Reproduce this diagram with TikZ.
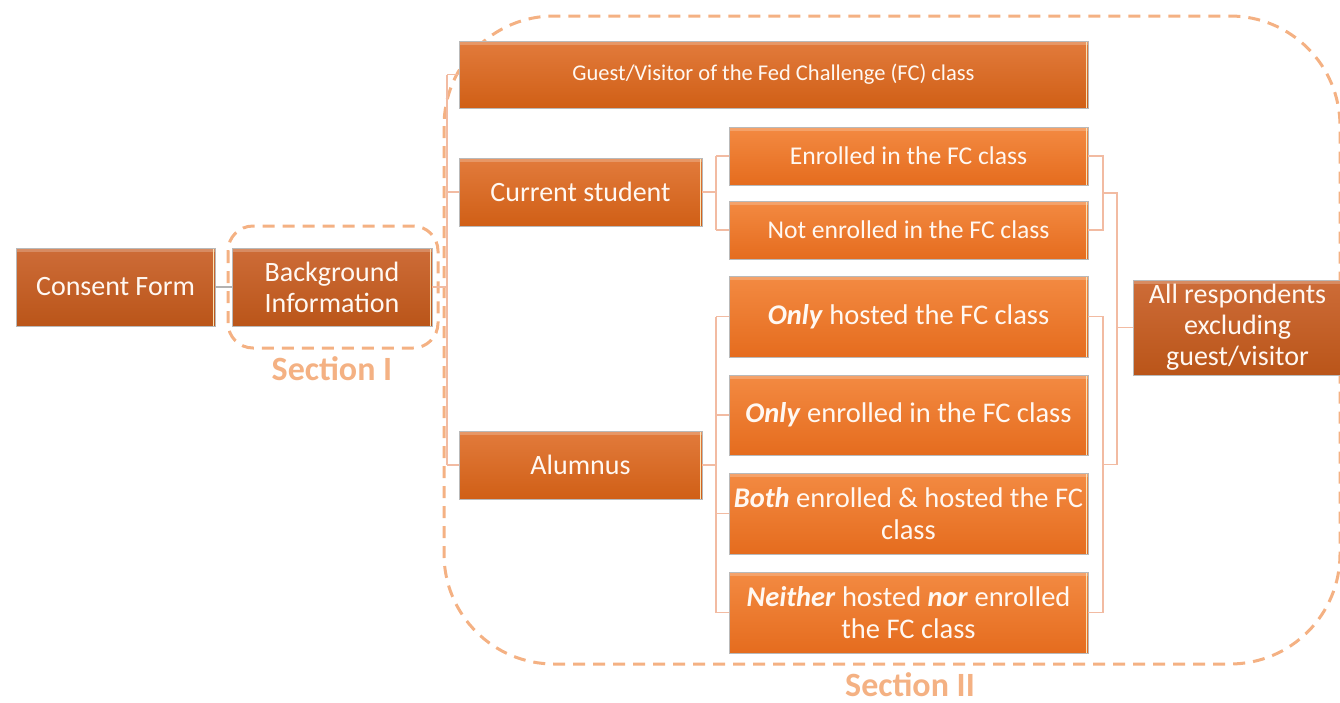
\documentclass[tikz,border=0pt]{standalone}
\usepackage{fontspec}
\setmainfont{Carlito}
\usetikzlibrary{calc}
\definecolor{secc}{HTML}{F4B183}
\definecolor{linkc}{HTML}{F2BBA2}
\definecolor{dtop}{HTML}{CD6C38}
\definecolor{dbot}{HTML}{BA5519}
\definecolor{mtop}{HTML}{E27B3C}
\definecolor{mbot}{HTML}{D05F16}
\definecolor{ltop}{HTML}{F38A42}
\definecolor{lbot}{HTML}{E56C1E}
\definecolor{txtc}{HTML}{FFF8F2}
\definecolor{edgec}{HTML}{FBE3B5}
\tikzset{
  box/.style={draw=gray!55, line width=0.8pt, text=txtc, align=center, inner sep=0pt,
    path picture={
      \fill[white, opacity=0.22] (path picture bounding box.north west) rectangle ([yshift=-4pt]path picture bounding box.north east);
      \draw[edgec, line width=1.4pt] ([xshift=-1.5pt]path picture bounding box.north east) -- ([xshift=-1.5pt]path picture bounding box.south east);
    }},
  boxdark/.style={box, top color=dtop, bottom color=dbot},
  boxmid/.style={box, top color=mtop, bottom color=mbot},
  boxlight/.style={box, top color=ltop, bottom color=lbot},
  big/.style={font=\fontsize{28}{31}\selectfont},
  large/.style={font=\fontsize{28.5}{31.5}\selectfont},
  med/.style={font=\fontsize{25.6}{31}\selectfont},
  small/.style={font=\fontsize{22.5}{27}\selectfont},
  link/.style={draw=linkc, line width=1.4pt},
  secdash/.style={draw=secc, line width=3pt, dash pattern=on 12pt off 8pt},
  seclabel/.style={text=secc, font=\bfseries\fontsize{34}{38}\selectfont, inner sep=0pt}
}
\begin{document}
\begin{tikzpicture}[x=1pt,y=-1pt]
\useasboundingbox (0,0) rectangle (1340,702);

% dashed section frames
\draw[secdash, rounded corners=110pt] (444,16) rectangle (1340,664);
\draw[secdash, rounded corners=25pt] (228,226) rectangle (438,348);

% boxes
\node[boxdark, big, minimum width=199pt, minimum height=78pt] (cf) at (115.5,287) {Consent Form};
\node[boxdark, big, minimum width=200pt, minimum height=78pt] (bg) at (332,287) {Background\\Information};
\node[boxmid, small, minimum width=629pt, minimum height=67pt] (guest) at (773.5,74.5) {Guest/Visitor of the Fed Challenge (FC) class};
\node[boxmid, big, minimum width=243pt, minimum height=68pt] (cur) at (580.5,192) {Current student};
\node[boxmid, big, minimum width=243pt, minimum height=68pt] (alum) at (580.5,465) {Alumnus};
\node[boxlight, med, minimum width=359pt, minimum height=58pt] (enr) at (908.5,156) {Enrolled in the FC class};
\node[boxlight, med, minimum width=359pt, minimum height=58pt] (nen) at (908.5,230) {Not enrolled in the FC class};
\node[boxlight, large, minimum width=359pt, minimum height=81pt] (oh) at (908.5,316.5) {\textbf{\textit{Only}} hosted the FC class};
\node[boxlight, large, minimum width=359pt, minimum height=80pt] (oe) at (908.5,415) {\textbf{\textit{Only}} enrolled in the FC class};
\node[boxlight, large, minimum width=359pt, minimum height=81pt] (both) at (908.5,513.5) {\textbf{\textit{Both}} enrolled \& hosted the FC\\class};
\node[boxlight, large, minimum width=359pt, minimum height=81pt] (nei) at (908.5,612.5) {\textbf{\textit{Neither}} hosted \textbf{\textit{nor}} enrolled\\the FC class};
\node[boxdark, big, minimum width=209pt, minimum height=95pt] (all) at (1237.5,327.5) {All respondents\\excluding\\guest/visitor};

% bus coordinates
\coordinate (b1) at (447,0);
\coordinate (b2) at (716,0);
\coordinate (b3) at (1103,0);
\coordinate (b4) at (1117,0);

% connectors
\draw[draw=gray!60, line width=1.4pt] (cf.east) -- (bg.west);
\draw[link] (bg.east) -- (bg.east -| b1);
\draw[link] (guest.west -| b1) -- (alum.west -| b1);
\draw[link] (guest.west -| b1) -- (guest.west);
\draw[link] (cur.west -| b1) -- (cur.west);
\draw[link] (alum.west -| b1) -- (alum.west);

\draw[link] (cur.east) -- (cur.east -| b2);
\draw[link] (enr.west -| b2) -- (nen.west -| b2);
\draw[link] (enr.west -| b2) -- (enr.west);
\draw[link] (nen.west -| b2) -- (nen.west);

\draw[link] (alum.east) -- (alum.east -| b2);
\draw[link] (oh.west -| b2) -- (nei.west -| b2);
\draw[link] (oh.west -| b2) -- (oh.west);
\draw[link] (oe.west -| b2) -- (oe.west);
\draw[link] (both.west -| b2) -- (both.west);
\draw[link] (nei.west -| b2) -- (nei.west);

\draw[link] (enr.east) -- (enr.east -| b3) -- (nen.east -| b3) -- (nen.east);
\coordinate (cm) at ($(enr.east -| b3)!0.5!(nen.east -| b3)$);
\draw[link] (oh.east) -- (oh.east -| b3) -- (nei.east -| b3) -- (nei.east);
\coordinate (am) at ($(oh.east -| b3)!0.5!(nei.east -| b3)$);
\draw[link] (cm) -- (cm -| b4) -- (am -| b4) -- (am);
\draw[link] (all.west -| b4) -- (all.west);

% section labels
\node[seclabel] (s1) at (332,369) {Section I};
\node[seclabel] (s2) at (910,685) {Section II};
\end{tikzpicture}
\end{document}
